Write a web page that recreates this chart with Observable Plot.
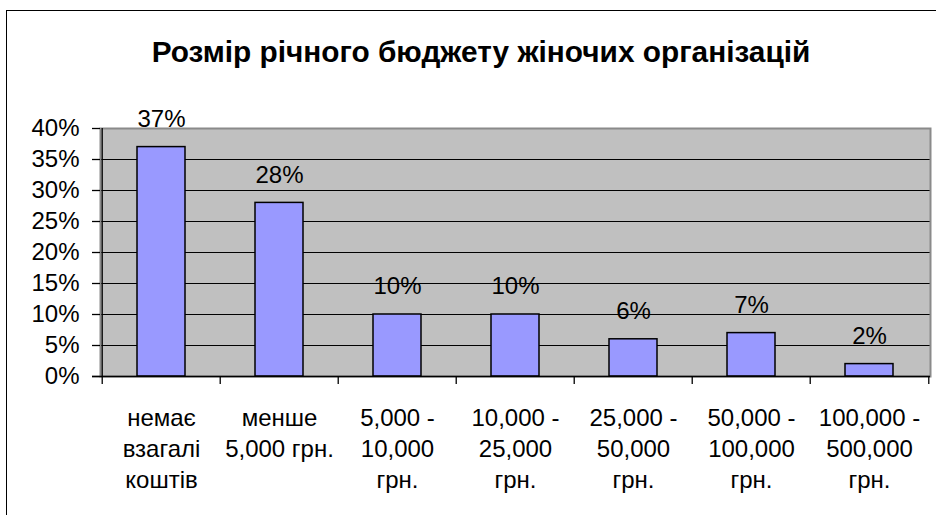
<!DOCTYPE html>
<html>
<head>
<meta charset="utf-8">
<script src="https://cdn.jsdelivr.net/npm/d3@7"></script>
<script src="https://cdn.jsdelivr.net/npm/@observablehq/plot@0.6"></script>
<style>
  html, body { margin: 0; padding: 0; background: #fff; overflow: hidden; }
  #wrap { position: relative; width: 936px; height: 515px; overflow: hidden; }
  #border { position: absolute; left: 6px; top: 10px; width: 2000px; height: 2000px;
            border-left: 1.5px solid #000; border-top: 1.5px solid #000; }
  #chart { position: absolute; left: 0; top: 0; }
</style>
</head>
<body>
<div id="wrap"><div id="border"></div><div id="chart"></div></div>
<script>
const title = "Розмір річного бюджету жіночих організацій";
const categories = [
  "немає\nвзагалі\nкоштів",
  "менше\n5,000 грн.",
  "5,000 -\n10,000\nгрн.",
  "10,000 -\n25,000\nгрн.",
  "25,000 -\n50,000\nгрн.",
  "50,000 -\n100,000\nгрн.",
  "100,000 -\n500,000\nгрн."
];
const values = [37, 28, 10, 10, 6, 7, 2];
const yTicks = [0, 5, 10, 15, 20, 25, 30, 35, 40];

const data = categories.map((c, i) => ({category: c, value: values[i]}));

const W = 936, H = 515, ML = 100, MR = 6, MT = 128, MB = 139;
const step = (W - ML - MR) / categories.length;
const font = "'Liberation Sans', Arial, sans-serif";

const chart = Plot.plot({
  width: W, height: H,
  marginLeft: ML, marginRight: MR, marginTop: MT, marginBottom: MB,
  style: {fontFamily: font, background: "transparent", color: "#000", overflow: "visible"},
  x: {domain: categories, paddingInner: 0.595, paddingOuter: 0.2975, align: 0.5},
  y: {domain: [0, 40]},
  marks: [
    Plot.frame({fill: "#C0C0C0"}),
    Plot.gridY(yTicks, {stroke: "#000", strokeOpacity: 1, strokeWidth: 1}),
    Plot.frame({stroke: "#8a8a8a", strokeWidth: 2}),
    Plot.barY(data, {x: "category", y: "value", fill: "#9999FF", stroke: "#000", strokeWidth: 1.5}),
    Plot.ruleX([categories[0]], {x: d => d, dx: -step / 2, stroke: "#000", strokeWidth: 1.3}),
    Plot.ruleY([0], {stroke: "#000", strokeWidth: 1.3, insetLeft: -8}),
    Plot.ruleX(categories, {x: d => d, dx: -step / 2, y1: 0, y2: 0, insetBottom: -8, stroke: "#000", strokeWidth: 1.3}),
    Plot.ruleX([categories[categories.length - 1]], {x: d => d, dx: step / 2, y1: 0, y2: 0, insetBottom: -8, stroke: "#000", strokeWidth: 1.3}),
    Plot.axisY({ticks: yTicks, tickSize: 8, tickPadding: 13, tickFormat: d => d + "%", fontSize: 24, stroke: "#000", strokeWidth: 1.3, label: null}),
    Plot.axisX({tickSize: 0, tickPadding: 28, fontSize: 24, lineHeight: 1.29, label: null}),
    Plot.text(data, {x: "category", y: "value", text: d => d.value + "%", dy: -28, fontSize: 24, lineAnchor: "middle", fill: "#000"}),
    Plot.text([title], {frameAnchor: "top", dx: 480.5 - (ML + (W - ML - MR) / 2), dy: -76.3, fontSize: 29.8, fontWeight: "bold", lineAnchor: "middle", fill: "#000"})
  ]
});
document.getElementById("chart").appendChild(chart);
</script>
</body>
</html>
